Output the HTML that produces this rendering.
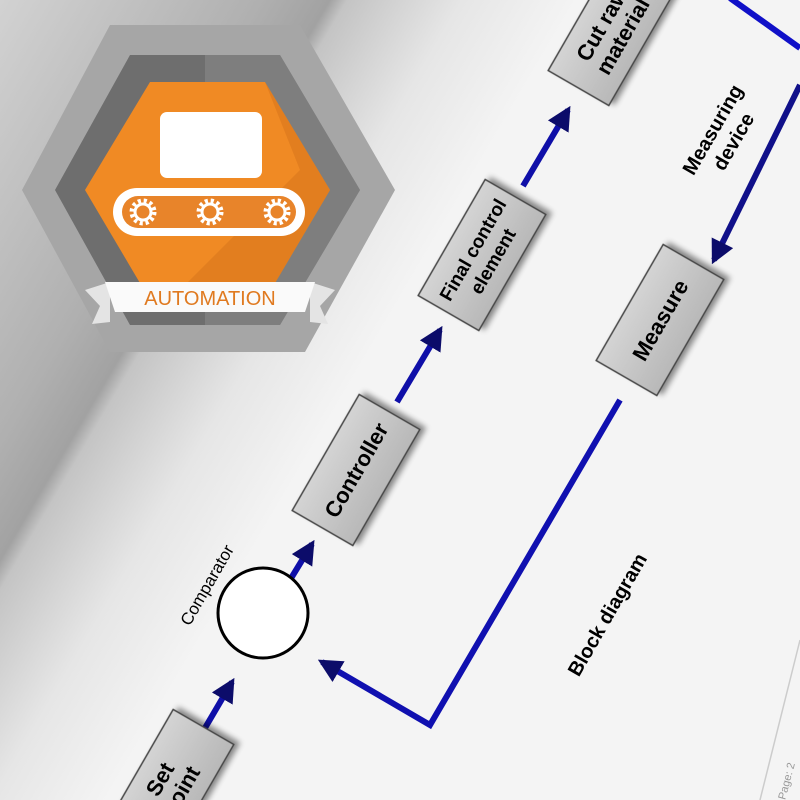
<!DOCTYPE html>
<html><head><meta charset="utf-8"><style>
html,body{margin:0;padding:0;background:#f4f4f4;width:800px;height:800px;overflow:hidden;}
svg{display:block;}
text{font-family:"Liberation Sans",Arial,sans-serif;}
</style></head><body>
<svg width="800" height="800" viewBox="0 0 800 800" xmlns="http://www.w3.org/2000/svg">
<defs>
<linearGradient id="bg" gradientUnits="userSpaceOnUse" x1="0" y1="0" x2="430" y2="253">
<stop offset="0" stop-color="#d2d2d2"/><stop offset="0.45" stop-color="#b0b0b0"/><stop offset="0.57" stop-color="#a2a2a2"/><stop offset="0.6" stop-color="#c4c4c4"/><stop offset="0.8" stop-color="#e6e6e6"/><stop offset="1" stop-color="#f4f4f4"/>
</linearGradient>
<linearGradient id="box" x1="0" y1="0" x2="0" y2="1">
<stop offset="0" stop-color="#d4d4d4"/><stop offset="1" stop-color="#b8b8b8"/>
</linearGradient>
<filter id="sh" x="-30%" y="-30%" width="160%" height="160%"><feDropShadow dx="4" dy="4" stdDeviation="3" flood-color="#000" flood-opacity="0.45"/></filter>
<marker id="ah" viewBox="0 0 10 10" refX="8" refY="5" markerWidth="4" markerHeight="4" orient="auto"><path d="M0,0 L10,5 L0,10 z" fill="#0c0c6a"/></marker>
</defs>
<rect width="800" height="800" fill="url(#bg)"/>
<line x1="800" y1="640" x2="760" y2="800" stroke="#ccc" stroke-width="1.5"/>

<!-- logo -->
<polygon points="22,190 110,25 300,25 395,190 305,352 110,352" fill="#a6a6a6"/>
<polygon points="55,190 130,55 280,55 360,190 280,325 130,325" fill="#6e6e6e"/>
<polygon points="205,55 280,55 360,190 280,325 205,325" fill="#8e8e8e" opacity="0.5"/>
<polygon points="85,190 150,82 265,82 330,190 265,300 150,300" fill="#f08a24"/>
<polygon points="265,82 330,190 265,300 170,300 300,170" fill="#d9761c" opacity="0.6"/>
<rect x="160" y="112" width="102" height="66" rx="7" fill="#fff"/>
<rect x="113" y="188" width="192" height="48" rx="24" fill="#fff"/>
<rect x="122" y="196" width="174" height="32" rx="16" fill="#e8842a"/>
<g fill="#fff" stroke="#fff">
<circle cx="143" cy="212" r="11" fill="none" stroke-width="5" stroke-dasharray="3 2.8"/>
<circle cx="210" cy="212" r="11" fill="none" stroke-width="5" stroke-dasharray="3 2.8"/>
<circle cx="277" cy="212" r="11" fill="none" stroke-width="5" stroke-dasharray="3 2.8"/>
<circle cx="143" cy="212" r="8" fill="none" stroke-width="3"/>
<circle cx="210" cy="212" r="8" fill="none" stroke-width="3"/>
<circle cx="277" cy="212" r="8" fill="none" stroke-width="3"/>
</g>
<polygon points="85,290 110,282 110,322 92,324 100,306" fill="#e4e4e4"/>
<polygon points="335,290 310,282 310,322 328,324 320,306" fill="#e4e4e4"/>
<polygon points="105,282 315,282 305,312 115,312" fill="#fafafa"/>
<text x="210" y="305" font-size="20" fill="#e07a20" text-anchor="middle">AUTOMATION</text>

<!-- connectors -->
<g stroke="#0f0fa8" stroke-width="6" fill="none" stroke-linejoin="miter">
<line x1="195" y1="745" x2="232" y2="682" marker-end="url(#ah)"/>
<line x1="290" y1="580" x2="312" y2="544" marker-end="url(#ah)"/>
<line x1="397" y1="402" x2="440" y2="330" marker-end="url(#ah)"/>
<line x1="523" y1="186" x2="568" y2="110" marker-end="url(#ah)"/>
<line x1="800" y1="85" x2="714" y2="260" marker-end="url(#ah)" stroke="#10108a"/>
<polyline points="730,-2 800,48" stroke="#1010c8"/>
<polyline points="620,400 430,725 322,662" marker-end="url(#ah)" stroke="#1010b0"/>
</g>

<!-- comparator -->
<circle cx="263" cy="613" r="45" fill="#fff" stroke="#000" stroke-width="3"/>
<text transform="translate(212,588) rotate(-60)" font-size="17" text-anchor="middle">Comparator</text>

<!-- boxes -->
<g transform="translate(356,470) rotate(-60)" filter="url(#sh)"><rect x="-67" y="-35" width="134" height="70" fill="url(#box)" stroke="#444" stroke-width="1.5"/></g>
<text transform="translate(356,470) rotate(-60)" font-size="22" font-weight="bold" text-anchor="middle" y="8">Controller</text>

<g transform="translate(482,255) rotate(-60)" filter="url(#sh)"><rect x="-67" y="-35" width="134" height="70" fill="url(#box)" stroke="#444" stroke-width="1.5"/></g>
<text transform="translate(482,255) rotate(-60)" font-size="19" font-weight="bold" text-anchor="middle"><tspan x="0" y="-4">Final control</tspan><tspan x="0" y="19">element</tspan></text>

<g transform="translate(612,30) rotate(-60)" filter="url(#sh)"><rect x="-67" y="-35" width="134" height="70" fill="url(#box)" stroke="#444" stroke-width="1.5"/></g>
<text transform="translate(612,30) rotate(-60)" font-size="22" font-weight="bold" text-anchor="middle"><tspan x="0" y="-4">Cut raw</tspan><tspan x="0" y="20">material</tspan></text>

<g transform="translate(660,320) rotate(-60)" filter="url(#sh)"><rect x="-67" y="-35" width="134" height="70" fill="url(#box)" stroke="#444" stroke-width="1.5"/></g>
<text transform="translate(660,320) rotate(-60)" font-size="22" font-weight="bold" text-anchor="middle" y="8">Measure</text>

<g transform="translate(170,785) rotate(-60)" filter="url(#sh)"><rect x="-67" y="-35" width="134" height="70" fill="url(#box)" stroke="#444" stroke-width="1.5"/></g>
<text transform="translate(170,785) rotate(-60)" font-size="22" font-weight="bold" text-anchor="middle"><tspan x="0" y="-4">Set</tspan><tspan x="0" y="20">point</tspan></text>

<text transform="translate(722,135) rotate(-60)" font-size="20" font-weight="bold" text-anchor="middle"><tspan x="0" y="-4">Measuring</tspan><tspan x="0" y="20">device</tspan></text>
<text transform="translate(608,615) rotate(-60)" font-size="20" font-weight="bold" text-anchor="middle" y="6">Block diagram</text>
<text transform="translate(790,782) rotate(-75)" font-size="11" fill="#999" text-anchor="middle">Page: 2</text>
</svg>
</body></html>
